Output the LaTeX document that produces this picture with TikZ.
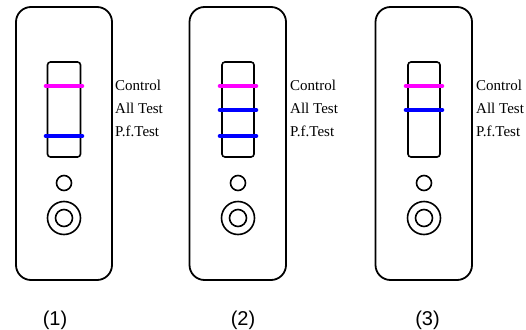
\documentclass[tikz,border=0pt]{standalone}
\usepackage{fontspec}
\setmainfont{Liberation Serif}
\newfontfamily\numfont{Liberation Sans}
\definecolor{ctrlpink}{RGB}{255,0,255}
\definecolor{testblue}{RGB}{0,0,255}
\begin{document}
\begin{tikzpicture}[x=1pt,y=-1pt,
  card/.style={draw=black,line width=1.8pt,rounded corners=15pt},
  window/.style={draw=black,line width=1.6pt,rounded corners=3pt},
  well/.style={draw=black,line width=1.6pt},
  band/.style={line width=4.6pt,line cap=round},
  lbl/.style={anchor=base west,inner sep=0pt,font=\fontsize{15}{18}\selectfont},
  num/.style={anchor=base,inner sep=0pt,font=\numfont\fontsize{20}{24}\selectfont}]
\useasboundingbox (0,0) rectangle (526,329);
% panel 1
\draw[card] (16,7) rectangle (112,280);
\draw[window] (47.5,62) rectangle (80.5,157);
\draw[band,ctrlpink] (46,86) -- (82,86);
\draw[band,testblue] (46,136) -- (82,136);
\draw[well] (64,183) circle (7.5);
\draw[well] (64,218) circle (16.5);
\draw[well] (64,218) circle (8.5);
\node[lbl] (c1) at (115,90.5) {Control};
\node[lbl] (a1) at (115,113) {All Test};
\node[lbl] (p1) at (115,136) {P.f.Test};
\node[num] (n1) at (55,325) {(1)};
% panel 2
\draw[card] (189.5,7) rectangle (286,280);
\draw[window] (222,62) rectangle (254,157);
\draw[band,ctrlpink] (220,86) -- (256,86);
\draw[band,testblue] (220,110) -- (256,110);
\draw[band,testblue] (220,136) -- (256,136);
\draw[well] (238,183) circle (7.5);
\draw[well] (238,218) circle (16.5);
\draw[well] (238,218) circle (8.5);
\node[lbl] (c2) at (290,90.5) {Control};
\node[lbl] (a2) at (290,113) {All Test};
\node[lbl] (p2) at (290,136) {P.f.Test};
\node[num] (n2) at (243,325) {(2)};
% panel 3
\draw[card] (375.5,7) rectangle (472,280);
\draw[window] (408,62) rectangle (440,157);
\draw[band,ctrlpink] (406,86) -- (442,86);
\draw[band,testblue] (406,110) -- (442,110);
\draw[well] (424,183) circle (7.5);
\draw[well] (424,218) circle (16.5);
\draw[well] (424,218) circle (8.5);
\node[lbl] (c3) at (476,90.5) {Control};
\node[lbl] (a3) at (476,113) {All Test};
\node[lbl] (p3) at (476,136) {P.f.Test};
\node[num] (n3) at (427.5,325) {(3)};
\end{tikzpicture}
\end{document}
